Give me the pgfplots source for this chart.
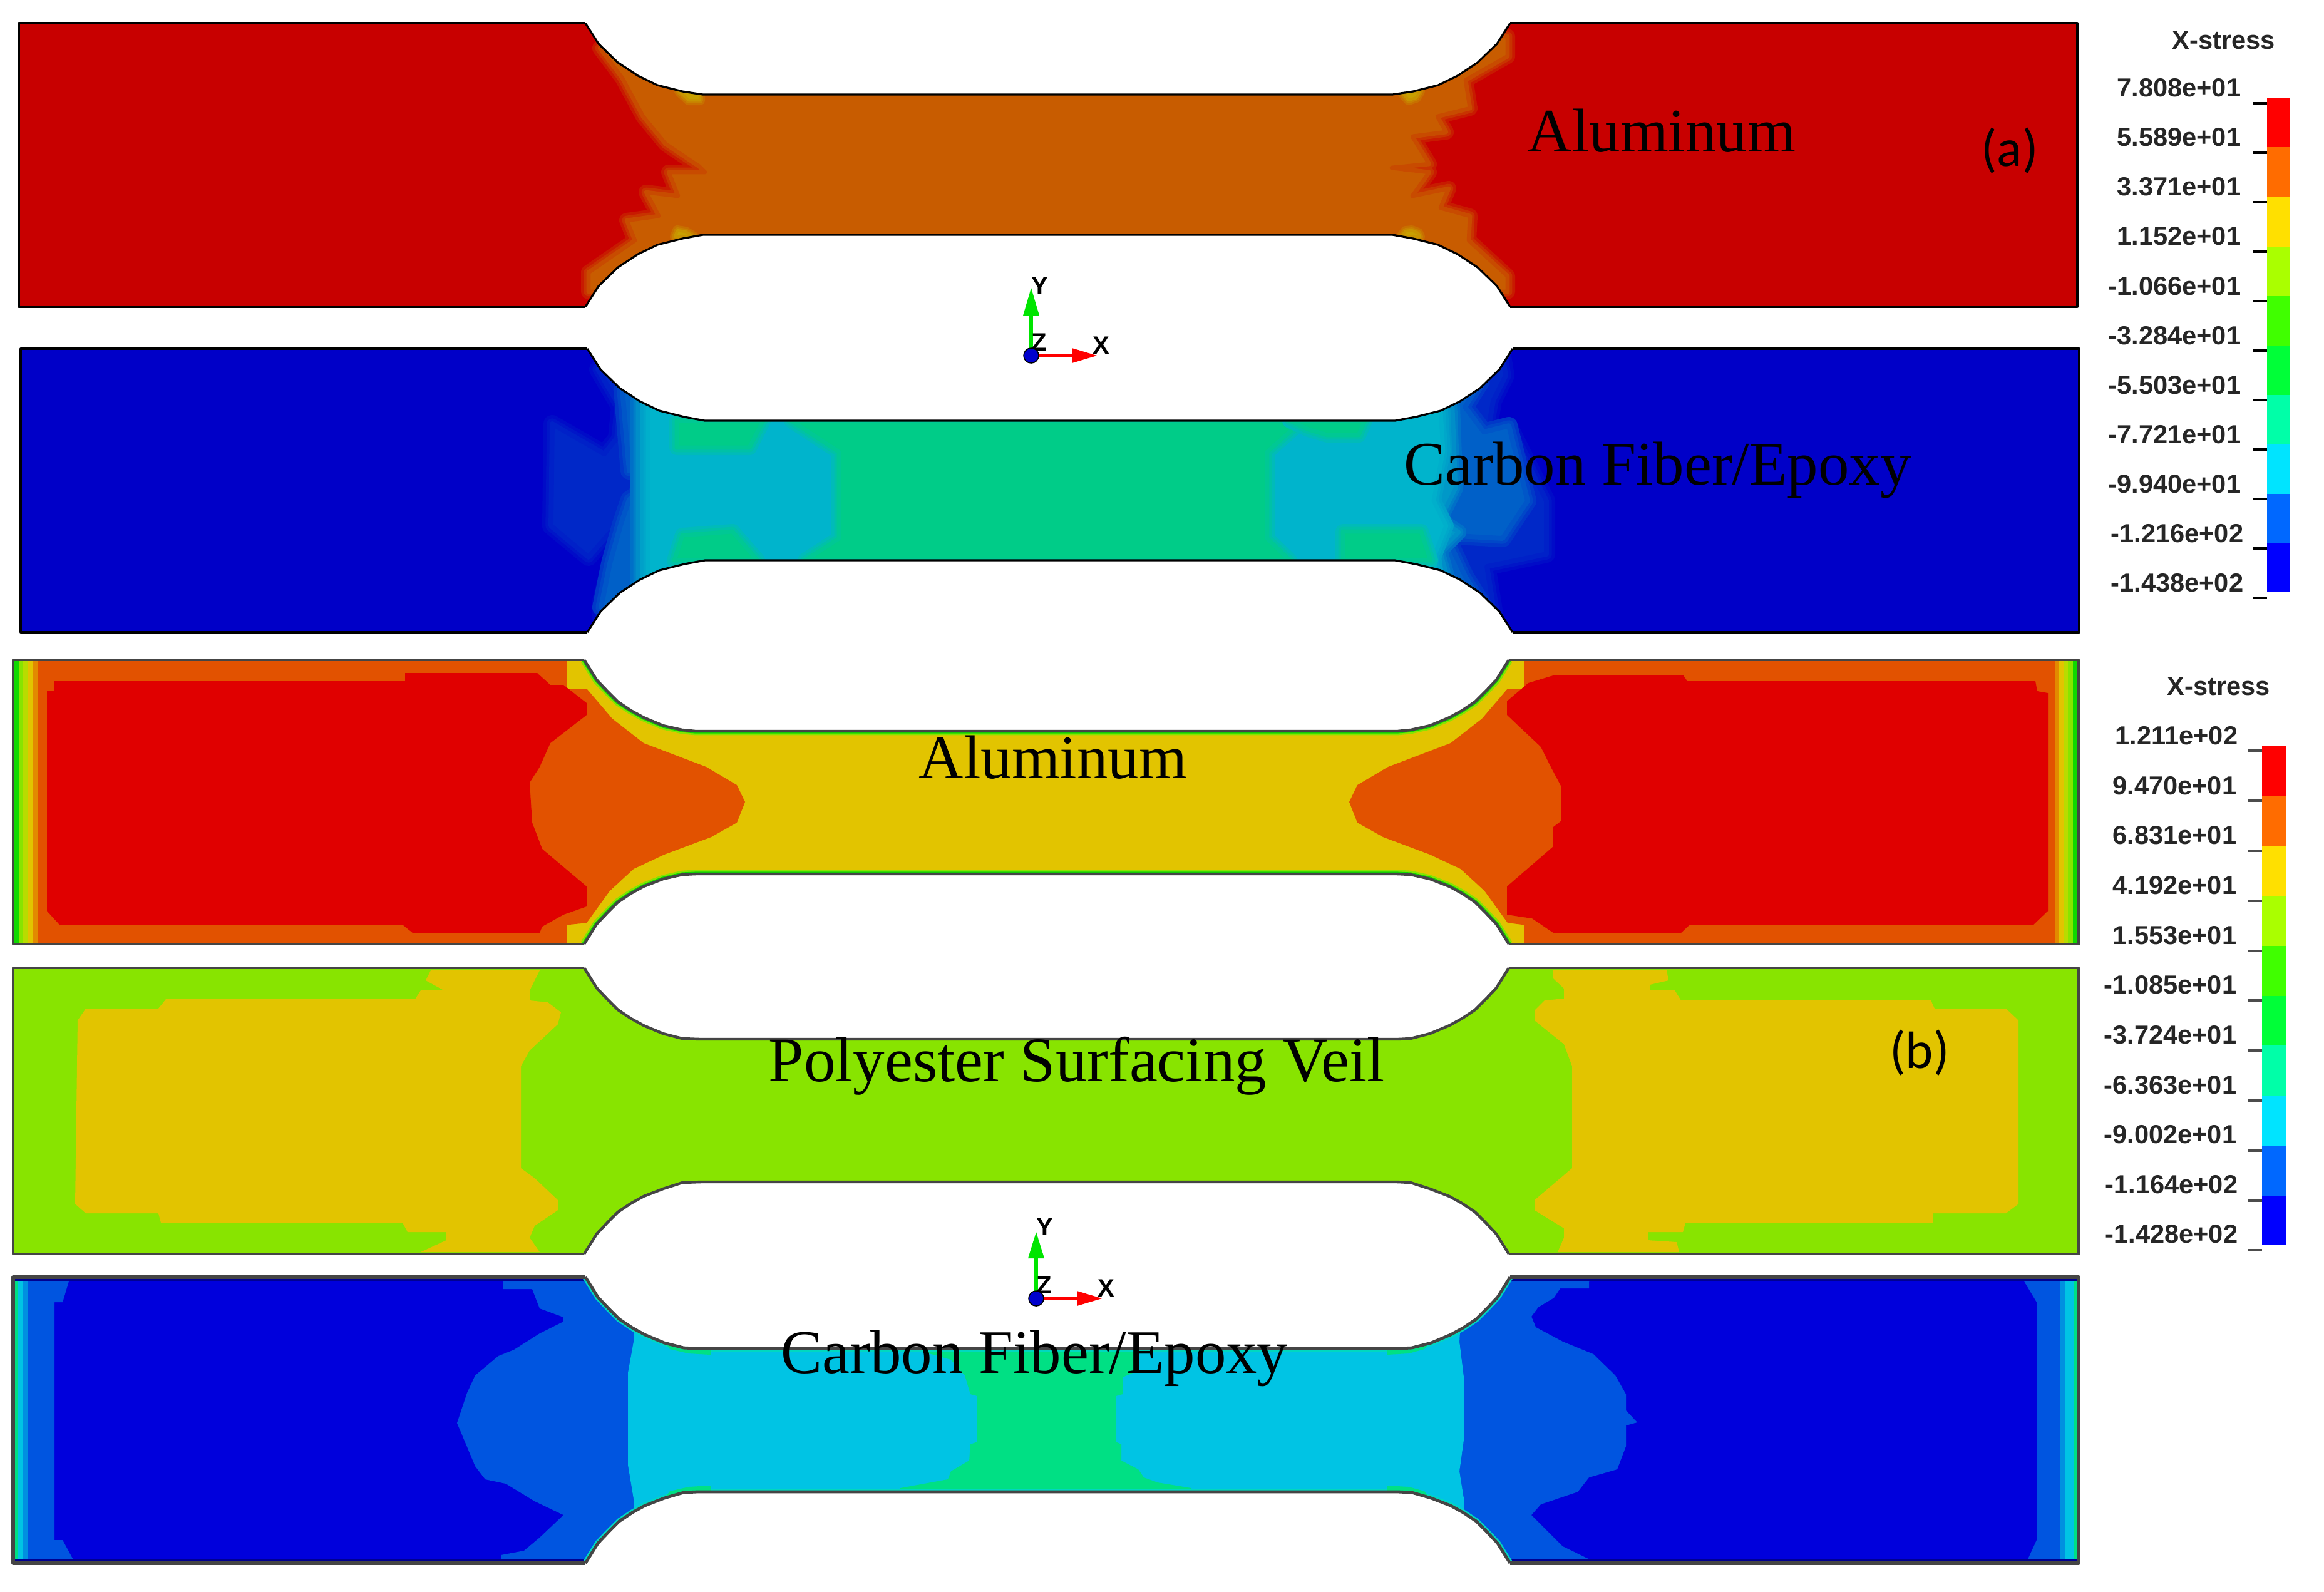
\documentclass[border=0pt]{standalone}
\usepackage{pgfplots}
\pgfplotsset{compat=1.18}
\usepackage{fontspec}
\setmainfont{Liberation Sans}
\newfontfamily\tnr{Liberation Serif}
\newfontfamily\calib{Carlito}
\definecolor{Ared}{HTML}{C80000}\definecolor{Aorg}{HTML}{C85C00}
\definecolor{Aspot}{HTML}{C8A000}
\definecolor{Bdk}{HTML}{0000C8}\definecolor{Bl1}{HTML}{0028C8}\definecolor{Bl3}{HTML}{0060C8}
\definecolor{Bl5}{HTML}{0098C8}\definecolor{Bcy}{HTML}{00B4CC}
\definecolor{Bgr}{HTML}{00CC88}
\definecolor{Cred}{HTML}{E00000}\definecolor{Corg}{HTML}{E25200}\definecolor{Cyel}{HTML}{E2C400}\definecolor{Clim}{HTML}{88E400}\definecolor{Cgrn}{HTML}{10D800}
\definecolor{Cy2}{HTML}{B8DC00}\definecolor{Co2}{HTML}{E28A00}
\definecolor{Ebl}{HTML}{0000DC}\definecolor{Emd}{HTML}{0055E0}\definecolor{Ecy}{HTML}{00C4E4}\definecolor{Egr}{HTML}{00E084}\definecolor{Edk}{HTML}{000090}\definecolor{Em2}{HTML}{0090E0}\definecolor{Ert}{HTML}{00D8C0}
\definecolor{Fr}{HTML}{FF0000}\definecolor{Fo}{HTML}{FF6C00}\definecolor{Fy}{HTML}{FFE000}\definecolor{Fl}{HTML}{AAFF00}\definecolor{Fg}{HTML}{40FF00}
\definecolor{Fh}{HTML}{00FF38}\definecolor{Ft}{HTML}{00FFA8}\definecolor{Fc}{HTML}{00E4FF}\definecolor{Fb}{HTML}{0068FF}\definecolor{Fn}{HTML}{0000FF}
\definecolor{Frm}{HTML}{454545}
\pgfplotsset{every axis plot/.append style={line join=round}}
\newcommand\poly[2]{\addplot[#1] coordinates {#2} -- cycle;}
\newcommand\soft[4]{\addplot[draw=#1!72!#2,line width=#3pt] coordinates {#4} -- cycle;
 \addplot[draw=#1!45!#2,line width=0.62*#3pt] coordinates {#4} -- cycle;
 \addplot[fill=#2,draw=#1!18!#2,line width=0.28*#3pt] coordinates {#4} -- cycle;}
\newcommand\rect[5]{\addplot[fill=#1,draw=none] coordinates {(#2,#3)(#4,#3)(#4,#5)(#2,#5)} -- cycle;}
\newcommand\rim[3]{\edef\tmp{\noexpand\addplot[draw=#1,line width=#2pt] coordinates {#3};}\tmp}
\newcommand\notch[6]{\edef\tmp{\noexpand\addplot[fill=white,draw=none] coordinates {(#4,#6)#1(#5,#6)} -- cycle;}\tmp
 \edef\tmp{\noexpand\addplot[draw=#2,line width=#3pt] coordinates {#1};}\tmp}
\newcommand\frameC[8]{\addplot[draw=#1,line width=#2pt] coordinates {(#7,#4)(#3,#4)(#3,#6)(#7,#6)};
 \addplot[draw=#1,line width=#2pt] coordinates {(#8,#4)(#5,#4)(#5,#6)(#8,#6)};}
\def\ArcAT{(935,37)(956,70)(987,100)(1019,121)(1050,136)(1090,146)(1123,151)(2224,151)(2257,146)(2297,136)(2328,121)(2360,100)(2391,70)(2412,37)}
\def\ArcAB{(935,490)(956,457)(987,427)(1019,406)(1050,391)(1090,381)(1123,375)(2224,375)(2257,381)(2297,391)(2328,406)(2360,427)(2391,457)(2412,490)}
\def\ArcBT{(938,557)(959,590)(990,620)(1022,641)(1053,656)(1093,666)(1126,672)(2228,672)(2261,666)(2301,656)(2332,641)(2364,620)(2395,590)(2416,557)}
\def\ArcBB{(938,1010)(959,977)(990,947)(1022,926)(1053,911)(1093,901)(1126,895)(2228,895)(2261,901)(2301,911)(2332,926)(2364,947)(2395,977)(2416,1010)}
\def\ArcCT{(933,1054)(953,1086)(970,1104)(987,1121)(1008,1135)(1028,1146)(1059,1159)(1090,1166)(1111,1168)(2232,1168)(2253,1166)(2284,1159)(2315,1146)(2335,1135)(2356,1121)(2373,1104)(2390,1086)(2410,1054)}
\def\ArcCB{(933,1508)(953,1476)(970,1458)(987,1441)(1008,1427)(1028,1416)(1059,1404)(1090,1397)(1111,1396)(2232,1396)(2253,1397)(2284,1404)(2315,1416)(2335,1427)(2356,1441)(2373,1458)(2390,1476)(2410,1508)}
\def\ArcDT{(933,1546)(953,1578)(970,1596)(987,1613)(1008,1627)(1028,1638)(1059,1651)(1090,1659)(1119,1660)(2232,1660)(2253,1659)(2284,1651)(2315,1638)(2335,1627)(2356,1613)(2373,1596)(2390,1578)(2410,1546)}
\def\ArcDB{(933,2003)(953,1971)(970,1953)(987,1936)(1008,1922)(1028,1911)(1059,1899)(1090,1889)(1119,1888)(2232,1888)(2253,1889)(2284,1899)(2315,1911)(2335,1922)(2356,1936)(2373,1953)(2390,1971)(2410,2003)}
\def\ArcET{(935,2040)(955,2072)(972,2090)(989,2107)(1010,2121)(1030,2132)(1061,2145)(1092,2153)(1113,2154)(2234,2154)(2255,2153)(2286,2145)(2317,2132)(2337,2121)(2358,2107)(2375,2090)(2392,2072)(2412,2040)}
\def\ArcEB{(935,2497)(955,2465)(972,2447)(989,2430)(1010,2416)(1030,2405)(1061,2393)(1092,2384)(1113,2383)(2234,2383)(2255,2384)(2286,2393)(2317,2405)(2337,2416)(2358,2430)(2375,2447)(2392,2465)(2412,2497)}
\newcommand\lab[3]{\node[anchor=east,inner sep=0pt,font=\fontsize{10.4}{12}\selectfont\bfseries,text=black!85] at (axis cs:#1,#2) {#3};}
\newcommand\tnrtext[4]{\node[anchor=base west,inner sep=0pt,font=\fontsize{#3}{30}\selectfont\tnr] at (axis cs:#1,#2) {#4};}
\begin{document}
\begin{tikzpicture}
\useasboundingbox (0,0) rectangle (928pt,635.5pt);
\begin{axis}[at={(0,0)},anchor=south west,x=0.25pt,y=0.25pt,disabledatascaling,
 xmin=0,xmax=3712,ymin=0,ymax=2542,y dir=reverse,axis lines=none,clip=false]
% ---------- panel 1: aluminum (a)
\rect{Ared}{30}{37}{3318}{490}
\soft{Ared}{Aorg}{6}{(958,77)(994,125)(1027,186)(1063,230)(1117,266)(1126,275)(1068,275)(1083,313)(1032,307)(1052,345)(1001,352)(1014,384)(940,435)(940,466)(2408,466)(2408,441)(2346,384)(2348,345)(2301,332)(2314,301)(2256,313)(2283,275)(2223,268)(2283,262)(2256,218)(2310,211)(2296,186)(2348,173)(2341,128)(2408,90)(2408,58)}
\soft{Aorg}{Aspot}{4}{(1085,146)(1118,146)(1118,160)(1100,160)}
\soft{Aorg}{Aspot}{4}{(1078,378)(1108,378)(1095,370)(1082,368)}
\soft{Aorg}{Aspot}{4}{(2238,146)(2268,146)(2262,156)(2250,160)}
\soft{Aorg}{Aspot}{4}{(2238,378)(2268,378)(2265,372)(2255,368)(2245,369)}
\notch{\ArcAT}{black}{0.8}{935}{2412}{15}
\notch{\ArcAB}{black}{0.8}{935}{2412}{512}
\frameC{black}{0.8}{30}{37}{3318}{490}{935}{2412}
% ---------- panel 2: carbon/epoxy (a)
\rect{Bdk}{33}{557}{3321}{1010}
\soft{Bdk}{Bl1}{7}{(955,590)(990,650)(985,700)(965,725)(882,677)(880,840)(940,890)(975,850)(975,900)(960,960)(960,1000)(2390,1000)(2375,905)(2470,885)(2470,800)(2440,740)(2410,680)(2375,700)(2385,640)(2405,600)(2400,570)}
\soft{Bl1}{Bl3}{7}{(994,623)(1005,752)(1059,760)(1005,798)(992,836)(974,900)(960,970)(2380,985)(2340,920)(2310,855)(2400,860)(2440,800)(2420,720)(2410,680)(2370,690)(2340,650)(2365,610)}
\soft{Bl3}{Bl5}{6}{(1019,640)(1019,960)(2320,950)(2300,880)(2330,850)(2300,830)(2325,780)(2320,650)}
\soft{Bl5}{Bcy}{6}{(1035,640)(1035,960)(2300,960)(2290,890)(2310,840)(2290,800)(2305,720)(2300,640)}
\soft{Bcy}{Bgr}{6}{(1264,672)(1340,722)(1340,860)(1286,895)(2060,895)(2024,860)(2024,722)(2080,672)}
\soft{Bcy}{Bgr}{6}{(1081,672)(1081,715)(1197,715)(1219,672)}
\soft{Bcy}{Bgr}{6}{(1077,895)(1090,855)(1170,849)(1210,895)}
\soft{Bcy}{Bgr}{6}{(2145,895)(2145,849)(2270,849)(2285,895)}
\soft{Bcy}{Bgr}{6}{(2060,672)(2180,672)(2170,695)(2120,695)(2090,686)}
\notch{\ArcBT}{black}{0.8}{938}{2416}{535}
\notch{\ArcBB}{black}{0.8}{938}{2416}{1032}
\frameC{black}{0.8}{33}{557}{3321}{1010}{938}{2416}
% ---------- panel 3: aluminum (b)
\rect{Corg}{21}{1054}{3320}{1508}
\rect{Co2}{21}{1054}{60}{1508}
\rect{Cyel}{21}{1054}{53}{1508}
\rect{Cy2}{21}{1054}{45}{1508}
\rect{Clim}{21}{1054}{37}{1508}
\rect{Cgrn}{21}{1054}{30}{1508}
\rect{Co2}{3282}{1054}{3320}{1508}
\rect{Cyel}{3288}{1054}{3320}{1508}
\rect{Cy2}{3296}{1054}{3320}{1508}
\rect{Clim}{3303}{1054}{3320}{1508}
\rect{Cgrn}{3311}{1054}{3320}{1508}
\rect{Cyel}{905}{1054}{2435}{1508}
\poly{fill=Corg,draw=none}{(937,1100)(978,1148)(1028,1187)(1078,1206)(1128,1225)(1177,1254)(1190,1281)(1177,1314)(1136,1337)(1061,1365)(1012,1388)(974,1423)(937,1474)(900,1478)(900,1100)}
\poly{fill=Corg,draw=none}{(2408,1100)(2367,1148)(2317,1187)(2267,1206)(2217,1225)(2168,1254)(2155,1281)(2168,1314)(2209,1337)(2284,1365)(2333,1388)(2371,1423)(2408,1474)(2440,1478)(2440,1100)}
\poly{fill=Cred,draw=none}{(87,1088)(647,1088)(647,1075)(858,1075)(879,1094)(900,1094)(937,1123)(937,1142)(879,1187)(862,1225)(846,1250)(850,1314)(866,1356)(937,1416)(937,1448)(900,1461)(866,1480)(862,1490)(659,1490)(643,1477)(95,1477)(75,1455)(75,1104)(87,1104)}
\poly{fill=Cred,draw=none}{(2484,1078)(2688,1078)(2695,1088)(3251,1088)(3254,1104)(3271,1107)(3271,1455)(3248,1477)(2699,1477)(2685,1490)(2481,1490)(2447,1467)(2407,1461)(2407,1416)(2481,1352)(2481,1321)(2494,1311)(2494,1257)(2477,1225)(2461,1193)(2407,1142)(2407,1120)(2441,1091)}
\rim{Clim}{3.2}{\ArcCT}\rim{Clim}{3.2}{\ArcCB}
\rim{Cgrn}{1.8}{\ArcCT}\rim{Cgrn}{1.8}{\ArcCB}
\notch{\ArcCT}{Frm}{1.1}{933}{2410}{1044}
\notch{\ArcCB}{Frm}{1.1}{933}{2410}{1518}
\frameC{Frm}{1.2}{21}{1054}{3320}{1508}{933}{2410}
% ---------- panel 4: polyester veil (b)
\rect{Clim}{21}{1546}{3320}{2003}
\poly{fill=Cyel,draw=none}{(124,1630)(137,1611)(253,1611)(265,1596)(663,1596)(672,1582)(709,1582)(680,1566)(688,1550)(862,1550)(846,1582)(846,1598)(875,1601)(896,1617)(891,1636)(846,1678)(832,1703)(832,1866)(854,1882)(891,1917)(891,1933)(854,1958)(846,1977)(862,2000)(672,2000)(713,1981)(713,1968)(651,1968)(643,1953)(257,1953)(253,1938)(137,1938)(120,1923)}
\poly{fill=Cyel,draw=none}{(2481,1550)(2662,1550)(2665,1566)(2635,1573)(2635,1582)(2675,1582)(2685,1598)(3084,1598)(3090,1611)(3204,1611)(3224,1630)(3224,1923)(3204,1938)(3087,1938)(3087,1953)(2692,1953)(2688,1968)(2632,1968)(2632,1981)(2678,1984)(2682,2000)(2488,2000)(2498,1977)(2498,1962)(2451,1933)(2451,1917)(2511,1866)(2511,1703)(2498,1668)(2451,1630)(2451,1614)(2467,1598)(2498,1595)(2498,1579)(2481,1563)}
\notch{\ArcDT}{Frm}{1.1}{933}{2410}{1536}
\notch{\ArcDB}{Frm}{1.1}{933}{2410}{2013}
\frameC{Frm}{1.2}{21}{1546}{3320}{2003}{933}{2410}
% ---------- panel 5: carbon/epoxy (b)
\rect{Ebl}{21}{2040}{3320}{2497}
\poly{fill=Emd,draw=none}{(21,2040)(112,2040)(100,2080)(87,2080)(87,2460)(100,2460)(120,2497)(21,2497)}
\rect{Em2}{21}{2040}{44}{2497}
\rect{Ecy}{21}{2040}{36}{2497}
\rect{Egr}{21}{2040}{28}{2497}
\poly{fill=Emd,draw=none}{(726,2043)(804,2043)(804,2059)(850,2059)(862,2090)(900,2104)(900,2111)(862,2130)(821,2156)(796,2166)(759,2197)(746,2225)(730,2273)(746,2311)(759,2342)(775,2363)(808,2370)(854,2398)(900,2420)(862,2456)(837,2477)(800,2484)(800,2494)(730,2494)(730,2497)(1012,2497)(1012,2040)}
\poly{fill=Emd,draw=none}{(2300,2040)(2618,2045)(2538,2047)(2538,2058)(2492,2058)(2482,2073)(2457,2088)(2446,2103)(2453,2120)(2496,2143)(2545,2163)(2580,2197)(2597,2227)(2597,2253)(2615,2272)(2597,2277)(2597,2310)(2583,2347)(2538,2360)(2520,2383)(2461,2403)(2446,2420)(2496,2470)(2541,2492)(2611,2493)(2300,2497)}
\poly{fill=Emd,draw=none}{(3229,2040)(3253,2080)(3253,2460)(3236,2497)(3320,2497)(3320,2040)}
\rect{Em2}{3290}{2040}{3320}{2497}
\rect{Ecy}{3298}{2040}{3320}{2497}
\rect{Egr}{3312}{2040}{3320}{2497}
\poly{fill=Ecy,draw=none}{(1012,2040)(1012,2143)(1003,2193)(1003,2340)(1012,2394)(1012,2497)(2340,2497)(2338,2394)(2331,2350)(2338,2300)(2338,2200)(2331,2143)(2338,2040)}
\poly{fill=Egr,draw=none}{(1443,2150)(1519,2172)(1541,2197)(1550,2227)(1561,2230)(1561,2303)(1550,2307)(1548,2333)(1519,2350)(1514,2363)(1492,2367)(1438,2377)(1438,2390)(1905,2390)(1903,2377)(1849,2368)(1827,2360)(1818,2347)(1791,2333)(1791,2307)(1782,2303)(1782,2230)(1793,2227)(1793,2200)(1809,2193)(1813,2170)(1830,2150)}
\rect{Edk}{21}{2041}{3320}{2047}
\rect{Edk}{21}{2491}{3320}{2497}
\rim{Ert}{2.4}{\ArcET}\rim{Ert}{2.4}{\ArcEB}
\poly{fill=Egr,draw=none}{(1060,2142)(1092,2153)(1135,2156)(1135,2164)(1100,2162)(1070,2155)}
\poly{fill=Egr,draw=none}{(1060,2395)(1092,2384)(1135,2381)(1135,2373)(1100,2375)(1070,2382)}
\poly{fill=Egr,draw=none}{(2285,2142)(2255,2153)(2215,2156)(2215,2164)(2250,2162)(2275,2155)}
\poly{fill=Egr,draw=none}{(2285,2395)(2255,2384)(2215,2381)(2215,2373)(2250,2375)(2275,2382)}
\notch{\ArcET}{Frm}{1.2}{935}{2412}{2030}
\notch{\ArcEB}{Frm}{1.2}{935}{2412}{2507}
\frameC{Frm}{1.4}{21}{2040}{3320}{2497}{935}{2412}
% ---------- triads
\addplot[draw=green!90!black,line width=1.4pt] coordinates {(1647,568)(1647,500)};
\poly{fill=green!90!black,draw=none}{(1647,460)(1660,504)(1634,504)}
\addplot[draw=red,line width=1.4pt] coordinates {(1647,568)(1715,568)};
\poly{fill=red,draw=none}{(1752,568)(1712,556)(1712,580)}
\addplot[only marks,mark=*,mark size=3pt,mark options={fill=blue!80!black,draw=none}] coordinates {(1647,568)};
\addplot[draw=green!90!black,line width=1.4pt] coordinates {(1655,2074)(1655,2006)};
\poly{fill=green!90!black,draw=none}{(1655,1968)(1668,2010)(1642,2010)}
\addplot[draw=red,line width=1.4pt] coordinates {(1655,2074)(1723,2074)};
\poly{fill=red,draw=none}{(1760,2074)(1720,2062)(1720,2086)}
\addplot[only marks,mark=*,mark size=3pt,mark options={fill=blue!80!black,draw=none}] coordinates {(1655,2074)};
% ---------- colour bar (a)
\rect{Fr}{3621}{156}{3657}{235}\rect{Fo}{3621}{235}{3657}{315}\rect{Fy}{3621}{315}{3657}{394}\rect{Fl}{3621}{394}{3657}{473}\rect{Fg}{3621}{473}{3657}{552}
\rect{Fh}{3621}{552}{3657}{631}\rect{Ft}{3621}{631}{3657}{710}\rect{Fc}{3621}{710}{3657}{789}\rect{Fb}{3621}{789}{3657}{868}\rect{Fn}{3621}{868}{3657}{946}
\addplot[draw=black,line width=0.8pt] coordinates {(3598,165)(3621,165)};
\addplot[draw=black,line width=0.8pt] coordinates {(3598,244)(3621,244)};
\addplot[draw=black,line width=0.8pt] coordinates {(3598,323)(3621,323)};
\addplot[draw=black,line width=0.8pt] coordinates {(3598,402)(3621,402)};
\addplot[draw=black,line width=0.8pt] coordinates {(3598,481)(3621,481)};
\addplot[draw=black,line width=0.8pt] coordinates {(3598,560)(3621,560)};
\addplot[draw=black,line width=0.8pt] coordinates {(3598,639)(3621,639)};
\addplot[draw=black,line width=0.8pt] coordinates {(3598,718)(3621,718)};
\addplot[draw=black,line width=0.8pt] coordinates {(3598,797)(3621,797)};
\addplot[draw=black,line width=0.8pt] coordinates {(3598,876)(3621,876)};
\addplot[draw=black,line width=0.8pt] coordinates {(3598,955)(3621,955)};
% ---------- colour bar (b)
\rect{Fr}{3613}{1191}{3651}{1271}\rect{Fo}{3613}{1271}{3651}{1351}\rect{Fy}{3613}{1351}{3651}{1431}\rect{Fl}{3613}{1431}{3651}{1511}\rect{Fg}{3613}{1511}{3651}{1591}
\rect{Fh}{3613}{1591}{3651}{1670}\rect{Ft}{3613}{1670}{3651}{1750}\rect{Fc}{3613}{1750}{3651}{1830}\rect{Fb}{3613}{1830}{3651}{1910}\rect{Fn}{3613}{1910}{3651}{1989}
\addplot[draw=black!70,line width=0.8pt] coordinates {(3591,1199)(3613,1199)};
\addplot[draw=black!70,line width=0.8pt] coordinates {(3591,1279)(3613,1279)};
\addplot[draw=black!70,line width=0.8pt] coordinates {(3591,1359)(3613,1359)};
\addplot[draw=black!70,line width=0.8pt] coordinates {(3591,1439)(3613,1439)};
\addplot[draw=black!70,line width=0.8pt] coordinates {(3591,1519)(3613,1519)};
\addplot[draw=black!70,line width=0.8pt] coordinates {(3591,1598)(3613,1598)};
\addplot[draw=black!70,line width=0.8pt] coordinates {(3591,1678)(3613,1678)};
\addplot[draw=black!70,line width=0.8pt] coordinates {(3591,1758)(3613,1758)};
\addplot[draw=black!70,line width=0.8pt] coordinates {(3591,1838)(3613,1838)};
\addplot[draw=black!70,line width=0.8pt] coordinates {(3591,1918)(3613,1918)};
\addplot[draw=black!70,line width=0.8pt] coordinates {(3591,1997)(3613,1997)};
% ---------- legend text
\node[inner sep=0pt,font=\fontsize{10.4}{12}\selectfont\bfseries,text=black!85] at (axis cs:3552,64) {X-stress};
\lab{3580}{140}{7.808e+01}\lab{3580}{219}{5.589e+01}\lab{3580}{298}{3.371e+01}\lab{3580}{377}{1.152e+01}
\lab{3580}{457}{-1.066e+01}\lab{3580}{536}{-3.284e+01}\lab{3580}{615}{-5.503e+01}\lab{3580}{694}{-7.721e+01}
\lab{3580}{773}{-9.940e+01}\lab{3584}{852}{-1.216e+02}\lab{3584}{931}{-1.438e+02}
\node[inner sep=0pt,font=\fontsize{10.4}{12}\selectfont\bfseries,text=black!85] at (axis cs:3544,1096) {X-stress};
\lab{3575}{1175}{1.211e+02}\lab{3573}{1255}{9.470e+01}\lab{3573}{1334}{6.831e+01}\lab{3573}{1414}{4.192e+01}
\lab{3573}{1494}{1.553e+01}\lab{3573}{1573}{-1.085e+01}\lab{3573}{1653}{-3.724e+01}\lab{3573}{1733}{-6.363e+01}
\lab{3573}{1812}{-9.002e+01}\lab{3575}{1892}{-1.164e+02}\lab{3575}{1971}{-1.428e+02}
% triad letters
\node[inner sep=0pt,font=\fontsize{10}{12}\selectfont\bfseries] at (axis cs:1661,457) {Y};
\node[inner sep=0pt,font=\fontsize{10}{12}\selectfont\bfseries] at (axis cs:1759,552) {X};
\node[inner sep=0pt,font=\fontsize{10}{12}\selectfont\bfseries] at (axis cs:1660,547) {Z};
\node[inner sep=0pt,font=\fontsize{10}{12}\selectfont\bfseries] at (axis cs:1669,1960) {Y};
\node[inner sep=0pt,font=\fontsize{10}{12}\selectfont\bfseries] at (axis cs:1767,2058) {X};
\node[inner sep=0pt,font=\fontsize{10}{12}\selectfont\bfseries] at (axis cs:1668,2053) {Z};
% labels
\tnrtext{2439}{242}{24.7}{Aluminum}
\tnrtext{2242}{774}{24.7}{Carbon Fiber/Epoxy}
\tnrtext{1467}{1243}{24.7}{Aluminum}
\tnrtext{1227}{1727}{25.3}{Polyester Surfacing Veil}
\tnrtext{1247}{2193}{24.7}{Carbon Fiber/Epoxy}
\node[inner sep=0pt,font=\fontsize{21}{24}\selectfont\calib] at (axis cs:3210,241) {(a)};
\node[inner sep=0pt,font=\fontsize{21}{24}\selectfont\calib] at (axis cs:3066,1682) {(b)};
\end{axis}
\end{tikzpicture}
\end{document}
